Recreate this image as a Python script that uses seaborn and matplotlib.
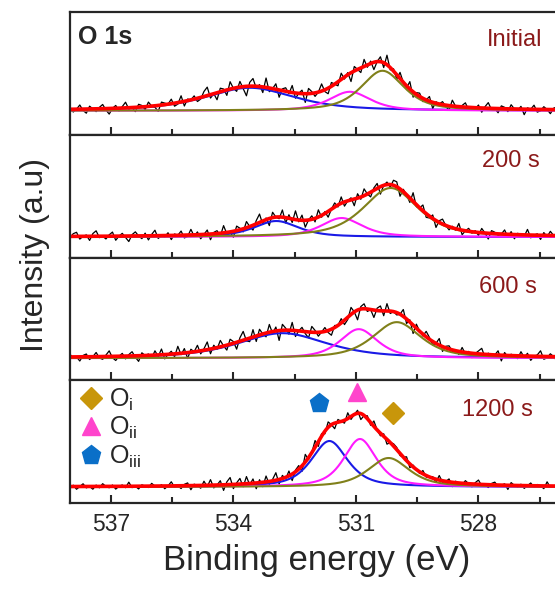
import numpy as np
import pandas as pd
import matplotlib
matplotlib.use('Agg')
import matplotlib.pyplot as plt
from matplotlib.ticker import MultipleLocator, FuncFormatter
import seaborn as sns

# ---- data (peak heights in panel pixels) ----
panel_labels = ['Initial', '200 s', '600 s', '1200 s']

# component peaks: centre (eV), height, FWHM (eV)
oi_center = [530.35, 530.15, 530.00, 530.20]
oi_height = [40, 49, 36, 29]
oi_width = [1.25, 1.60, 1.40, 1.20]

oii_center = [531.15, 531.35, 530.93, 530.90]
oii_height = [19, 19, 29, 48]
oii_width = [1.20, 1.20, 1.10, 0.95]

oiii_center = [533.60, 532.95, 532.80, 531.65]
oiii_height = [23, 16, 25, 46]
oiii_width = [2.60, 1.30, 2.60, 1.05]

# measured-minus-fit residuals of the raw spectra (pixels), high to low energy
noise_initial = [1, -2, 0, 3, -1, -3, 2, 0, -2, 1, 3, -1, -4, 0, 2, -2, 1, 4, -1, 0,
                 -3, 2, 1, -2, 3, 0, -1, -4, 2, 1, 0, 3, -2, -1, 4, -3, 1, 0, 2, -2,
                 -1, 3, 5, -2, 0, -4, 2, 1, -3, 4, 0, -2, 3, -1, -5, 2, 4, -1, 1, -3,
                 5, -2, 0, 3, -4, 1, 2, -1, 4, -3, 0, 2, -5, 3, 1, -2, 0, 4, -1, -3,
                 2, 0, -2, 3, -1, 1, -4, 2, 0, -2, 3, -1, 1, -3, 0, 2, -2, 4, -1, 1,
                 -2, 3, 0, -1, 4, -3, 1, 2, -2, 0, 3, -4, 1, 0, 2, -1, -3, 4, 0, -2,
                 1, 3, -2, 0, -1, 2, -3, 1, 4, -1, 0, -3, 2, 1, -2, 3, 0, -1, 2, -4,
                 1, 0, 3, -2, -1, 2, 0, -3, 1, 2, -1, 4, -2, 0, 1, -3, 2, 0, -1, 3]
noise_200 = [-1, 2, 3, -2, 0, 1, -3, 2, 4, -1, 0, -2, 1, 3, -3, 0, 2, -1, -4, 1,
             3, 0, -2, 2, -3, 1, 4, -2, 0, -1, 2, -3, 1, 0, 3, -2, -1, 4, -1, 2,
             -3, 0, 3, -4, 1, 2, -2, 5, -1, 0, -4, 3, 1, -2, 4, 0, -3, 2, 5, -2,
             1, -4, 3, 0, -1, 4, -3, 2, -2, 5, -1, 3, -4, 0, 2, -2, 4, -1, 1, -3,
             0, 2, -1, 3, -2, 0, 1, -3, 2, -1, 3, 0, -2, 1, 2, -3, 0, 1, -1, 2,
             2, -3, 1, 0, -2, 4, -1, 0, 3, -2, -1, 2, -4, 1, 3, 0, -2, 1, -1, 4,
             -3, 0, 2, -1, 1, -2, 3, 0, -4, 2, 1, -1, 0, 3, -2, 2, -3, 1, 0, -1,
             4, -2, 0, 1, -3, 2, -1, 3, 0, -2, 1, 0, -3, 2, 1, -1, 3, -2, 0, 1]
noise_600 = [2, -1, 0, -3, 1, 2, -2, 0, 3, -1, -2, 1, 4, -1, -3, 0, 2, -2, 1, 3,
             -1, -4, 2, 0, 1, -2, 3, -1, 4, -3, 0, 2, -2, 5, -1, 3, -4, 2, 0, 4,
             -2, 1, 5, -3, 2, -1, 4, 0, -3, 3, 1, -4, 2, 5, -1, -2, 4, -3, 3, 0,
             -2, 4, -1, 2, -5, 3, 1, -2, 4, -3, 0, 2, -1, -3, 3, 1, -2, 0, 2, -1,
             -3, 1, 0, 2, -2, -1, 3, 0, -4, 1, 2, -1, 0, -3, 1, 2, -2, 3, -1, 0,
             -1, 0, 3, -2, 1, -4, 2, 0, -1, 3, 1, -2, 0, 4, -3, 1, 2, -1, 0, -2,
             3, -1, 1, -3, 0, 2, 4, -2, 1, -1, 0, 3, -4, 2, -1, 1, 0, -2, 3, -1,
             2, -3, 0, 1, 4, -2, -1, 2, 0, -3, 1, 2, -1, 0, -2, 3, 1, -4, 2, 0]
noise_1200 = [-1, 1, -2, 0, 2, -1, 0, -2, 1, -1, 2, 0, -1, 1, -2, 0, 1, -1, 3, -1,
              0, -2, 1, 0, -1, 2, 0, -1, 1, -2, 0, 3, -1, 0, -2, 1, 2, -3, 1, 0,
              -2, 3, -1, 4, -2, 0, 3, -4, 2, 5, -3, 1, 4, -2, 5, -1, 3, -4, 2, -3,
              4, -2, 1, 5, -3, 2, -1, 3, -4, 1, 2, -3, 4, -1, 0, 3, -2, 1, -1, 2,
              0, -2, 1, 0, -1, 2, -1, 0, 1, -2, 0, 1, -1, 2, 0, -1, 1, -2, 0, 1,
              1, -1, 0, 2, -2, 1, 0, -1, 2, -1, 0, 1, -2, 3, -1, 0, 2, -3, 1, 0,
              -1, 2, 0, -2, 1, 3, -1, 0, -2, 1, 2, -1, 0, 1, -3, 2, 0, -1, 1, -2,
              0, 2, -1, 1, 0, -2, 3, -1, 0, 1, -1, 0, 2, -1, 1, -2, 0, 1, -1, 2]
noises = [noise_initial, noise_200, noise_600, noise_1200]

# marker positions above the 1200 s peaks (eV, height)
marker_x = [530.10, 530.97, 531.90]
marker_y = [74, 95, 84]

ylims = [(-24, 98.75), (-20.5, 102.25), (-22, 100.5), (-16, 106.75)]
label_y = [0.77, 0.786, 0.76, 0.757]
label_x = [0.889, 0.885, 0.879, 0.872]
major_step = [3, 5, 3, 3]


def pvoigt(x, c, h, w, eta=0.65):
    u = (x - c) / w
    return h * (eta / (1 + 4 * u ** 2) + (1 - eta) * np.exp(-4 * np.log(2) * u ** 2))


sns.set_style('ticks')
plt.rcParams['font.family'] = ['Liberation Sans', 'DejaVu Sans']
plt.rcParams['mathtext.fontset'] = 'custom'
plt.rcParams['mathtext.rm'] = 'Liberation Sans'

fig, axes = plt.subplots(4, 1, sharex=True, figsize=(5.55, 5.89), dpi=100)
fig.subplots_adjust(left=0.1261, right=1.0829, top=0.9796, bottom=0.146, hspace=0)

x_fine = np.linspace(538.5, 524.5, 700)
x_raw = 538.0 - 0.08 * np.arange(len(noise_initial))

c_oi, c_oii, c_oiii = '#80801a', '#ff1aff', '#1a1ae6'

for i, ax in enumerate(axes):
    comps_fine = [pvoigt(x_fine, oi_center[i], oi_height[i], oi_width[i]),
                  pvoigt(x_fine, oii_center[i], oii_height[i], oii_width[i]),
                  pvoigt(x_fine, oiii_center[i], oiii_height[i], oiii_width[i])]
    fit_fine = sum(comps_fine)
    fit_raw = (pvoigt(x_raw, oi_center[i], oi_height[i], oi_width[i])
               + pvoigt(x_raw, oii_center[i], oii_height[i], oii_width[i])
               + pvoigt(x_raw, oiii_center[i], oiii_height[i], oiii_width[i]))
    raw = fit_raw + np.array(noises[i]) * 1.35 * (1 + fit_raw / 60)

    df_raw = pd.DataFrame({'E': x_raw, 'I': raw})
    sns.lineplot(data=df_raw, x='E', y='I', ax=ax, color='black', lw=0.9,
                 sort=False, estimator=None)
    for comp, col in zip([comps_fine[2], comps_fine[1], comps_fine[0]],
                         [c_oiii, c_oii, c_oi]):
        sns.lineplot(x=x_fine, y=comp, ax=ax, color=col, lw=1.5,
                     sort=False, estimator=None)
    sns.lineplot(x=x_fine, y=fit_fine, ax=ax, color='#ff0000', lw=2.6,
                 sort=False, estimator=None)

    ax.set_xlim(538.0, 525.0)
    ax.set_ylim(*ylims[i])
    ax.set_yticks([])
    ax.set_ylabel('')
    ax.set_xlabel('')
    for sp in ax.spines.values():
        sp.set_linewidth(1.6)
    ax.text(label_x[i], label_y[i], panel_labels[i], transform=ax.transAxes,
            ha='right', va='center', fontsize=17, color='#8b1a1a')

axes[0].text(0.015, 0.80, 'O 1s', transform=axes[0].transAxes, ha='left',
             va='center', fontsize=18, fontweight='bold')

# peak markers and legend on the last panel
ax = axes[3]
m_oi, = ax.plot(marker_x[0], marker_y[0], ls='none', marker='D', ms=11,
                color='#c8960a', label=r'O$_\mathregular{i}$')
m_oii, = ax.plot(marker_x[1], marker_y[1], ls='none', marker='^', ms=13,
                 color='#ff44cc', label=r'O$_\mathregular{ii}$')
m_oiii, = ax.plot(marker_x[2], marker_y[2], ls='none', marker='p', ms=14,
                  color='#0a6fc8', label=r'O$_\mathregular{iii}$')
ax.legend(handles=[m_oi, m_oii, m_oiii], loc='upper left', frameon=False,
          fontsize=18, handletextpad=0.1, labelspacing=0.1, borderaxespad=0.05,
          handlelength=1.2, borderpad=0.2)

# ticks: inward, bottom spine only; the 200 s panel uses a 5 eV step
for i, a in enumerate(axes):
    a.xaxis.set_major_locator(MultipleLocator(major_step[i]))
    a.xaxis.set_minor_locator(MultipleLocator(major_step[i] / 2))
    a.tick_params(axis='x', which='both', direction='in', top=False, bottom=True,
                  width=1.5, labelsize=16.5, pad=7)
    a.tick_params(axis='x', which='major', length=6)
    a.tick_params(axis='x', which='minor', length=4)
    if i < 3:
        a.tick_params(axis='x', labelbottom=False)
axes[3].xaxis.set_major_formatter(
    FuncFormatter(lambda v, p: '' if v < 527 else f'{v:.0f}'))
axes[3].set_xlim(538.0, 525.0)

fig.text(0.063, 0.567, 'Intensity (a.u)', rotation=90, ha='center', va='center',
         fontsize=23)
fig.text(0.571, 0.049, 'Binding energy (eV)', ha='center', va='center', fontsize=25)

plt.savefig('out.png', dpi=100)
